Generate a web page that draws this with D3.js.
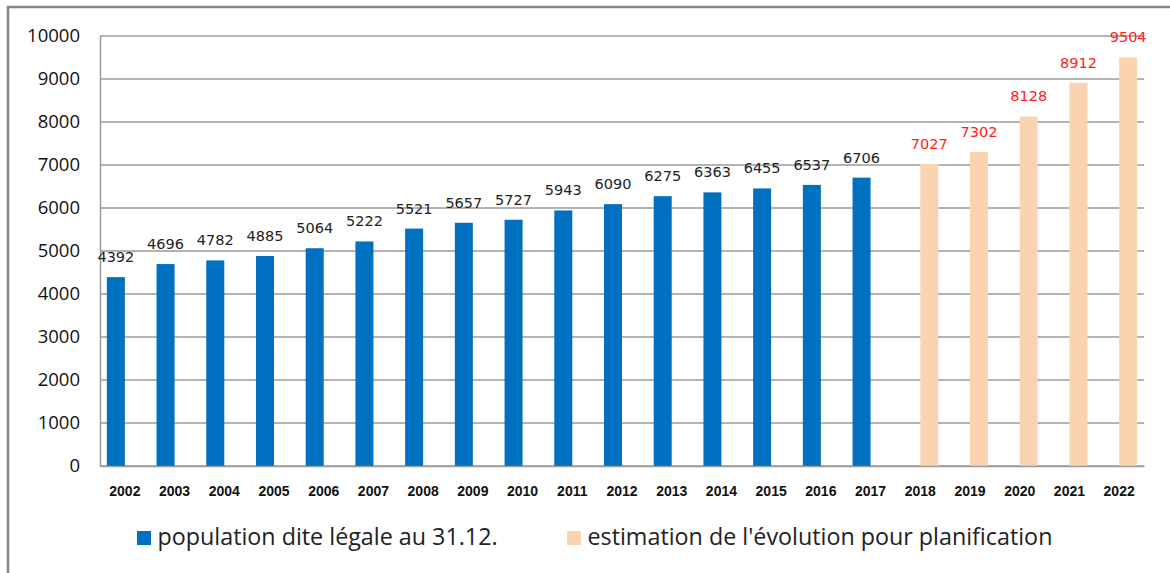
<!DOCTYPE html>
<html>
<head>
<meta charset="utf-8">
<script src="https://cdn.jsdelivr.net/npm/d3@7"></script>
<style>
  body { margin: 0; background: #fff; }
  text { font-family: "Open Sans", sans-serif; }
</style>
</head>
<body>
<div id="chart"></div>
<script>
var svgWidth = 1170;
var svgHeight = 573;

var margin = { top: 36, right: 26, bottom: 107, left: 100 };
var chartWidth = svgWidth - margin.left - margin.right;
var chartHeight = svgHeight - margin.top - margin.bottom;

// data
var years = ['2002','2003','2004','2005','2006','2007','2008','2009','2010','2011','2012',
             '2013','2014','2015','2016','2017','2018','2019','2020','2021','2022'];
var legalPop = [4392, 4696, 4782, 4885, 5064, 5222, 5521, 5657, 5727, 5943, 6090,
                6275, 6363, 6455, 6537, 6706, null, null, null, null, null];
var estimate = [null, null, null, null, null, null, null, null, null, null, null,
                null, null, null, null, null, 7027, 7302, 8128, 8912, 9504];
var yTicks = [0, 1000, 2000, 3000, 4000, 5000, 6000, 7000, 8000, 9000, 10000];
var seriesNames = ['population dite légale au 31.12.', "estimation de l'évolution pour planification"];

var colors = ['#0070C0', '#FAD3B1'];
var labelColors = ['#222', '#FF2020'];

var svg = d3.select('#chart').append('svg')
    .attr('width', svgWidth)
    .attr('height', svgHeight);

// outer frame (only top and left edges visible)
svg.append('path')
    .attr('d', 'M8,' + svgHeight + ' V7 H' + svgWidth)
    .attr('fill', 'none')
    .attr('stroke', '#868686')
    .attr('stroke-width', 2.5);

var chartGroup = svg.append('g')
    .attr('transform', `translate(${margin.left}, ${margin.top})`);

var xScale = d3.scaleBand()
    .domain(years)
    .range([0, chartWidth])
    .padding(0);

var xSub = d3.scaleBand()
    .domain([0, 1])
    .range([0, xScale.bandwidth()])
    .paddingInner(0)
    .paddingOuter(0.38);

var yScale = d3.scaleLinear()
    .domain([0, 10000])
    .range([chartHeight, 0]);

// gridlines
chartGroup.append('g')
    .selectAll('line')
    .data(yTicks)
    .enter()
    .append('line')
    .attr('x1', 0)
    .attr('x2', chartWidth)
    .attr('y1', d => yScale(d))
    .attr('y2', d => yScale(d))
    .attr('stroke', '#9a9a9a')
    .attr('stroke-width', 1.5);

// y axis
var leftAxis = d3.axisLeft(yScale).tickValues(yTicks).tickFormat(d3.format('d')).tickSize(0).tickPadding(20);
var yAxis = chartGroup.append('g').call(leftAxis);
yAxis.select('.domain').attr('stroke', '#9a9a9a').attr('stroke-width', 1.5);
yAxis.selectAll('text')
    .attr('font-size', '18.5px')
    .attr('fill', '#111')
    .style('font-family', '"Open Sans", sans-serif');

// bars
var seriesData = [legalPop, estimate];
seriesData.forEach(function(values, i) {
    var pts = years.map((y, j) => ({ year: y, value: values[j] })).filter(d => d.value !== null);

    chartGroup.selectAll('.bar' + i)
        .data(pts)
        .enter()
        .append('rect')
        .attr('class', 'bar' + i)
        .attr('x', d => xScale(d.year) + xSub(i))
        .attr('width', xSub.bandwidth())
        .attr('y', d => yScale(d.value))
        .attr('height', d => chartHeight - yScale(d.value))
        .attr('fill', colors[i]);

    chartGroup.selectAll('.label' + i)
        .data(pts)
        .enter()
        .append('text')
        .attr('class', 'label' + i)
        .attr('x', d => xScale(d.year) + xSub(i) + xSub.bandwidth() / 2)
        .attr('y', d => yScale(d.value) - 15)
        .attr('text-anchor', 'middle')
        .attr('font-size', '14.5px')
        .attr('fill', labelColors[i])
        .style('font-family', '"DejaVu Sans", sans-serif')
        .text(d => d.value);
});

// x axis
var bottomAxis = d3.axisBottom(xScale).tickSize(0).tickPadding(20);
var xAxis = chartGroup.append('g')
    .attr('transform', `translate(0, ${chartHeight})`)
    .call(bottomAxis);
xAxis.select('.domain').attr('stroke', '#9a9a9a').attr('stroke-width', 1.5);
xAxis.selectAll('text')
    .attr('font-size', '14px')
    .attr('font-weight', 'bold')
    .attr('fill', '#111')
    .style('font-family', '"Liberation Sans", sans-serif');

// legend
var legendX = [137, 567];
var legend = svg.append('g');
seriesNames.forEach(function(name, i) {
    legend.append('rect')
        .attr('x', legendX[i])
        .attr('y', 531)
        .attr('width', 14)
        .attr('height', 14)
        .attr('fill', colors[i]);
    legend.append('text')
        .attr('x', legendX[i] + 20.5)
        .attr('y', 545)
        .attr('font-size', '23.3px')
        .attr('fill', '#222')
        .text(name);
});
</script>
</body>
</html>
